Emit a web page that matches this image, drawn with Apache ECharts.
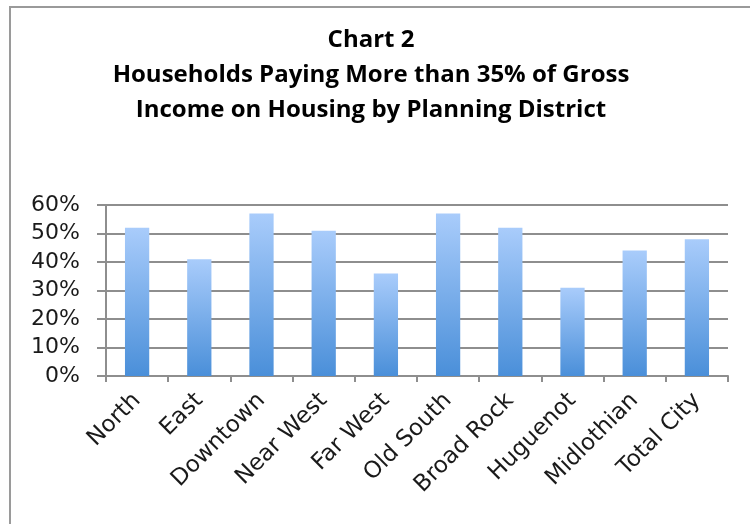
<!DOCTYPE html>
<html>
<head>
<meta charset="utf-8">
<script src="https://cdn.jsdelivr.net/npm/echarts@6/dist/echarts.min.js"></script>
<style>
    html, body { margin: 0; padding: 0; background: #fff; }
</style>
</head>
<body>
<div id="chart" style="width:750px;height:524px;"></div>
<script type="text/javascript">
    // planning districts and share of households paying > 35% of income
    var districts = ['North', 'East', 'Downtown', 'Near West', 'Far West', 'Old South', 'Broad Rock', 'Huguenot', 'Midlothian', 'Total City'];
    var shares = [52, 41, 57, 51, 36, 57, 52, 31, 44, 48];
    var yTicks = [0, 10, 20, 30, 40, 50, 60];

    var myChart = echarts.init(document.getElementById('chart'));
    var gray = '#8e8e8e';
    var labelFont = '"DejaVu Sans", sans-serif';

    var option = {
        animation: false,
        title: {
            text: 'Chart 2\nHouseholds Paying More than 35% of Gross\nIncome on Housing by Planning District',
            left: 366,
            top: 18,
            textAlign: 'center',
            textStyle: {
                fontFamily: '"Open Sans", sans-serif',
                fontWeight: 'bold',
                fontSize: 24,
                lineHeight: 35,
                color: '#000'
            }
        },
        // outer frame of the chart
        graphic: [{
            type: 'rect',
            shape: { x: 10, y: 7, width: 800, height: 600 },
            style: { fill: 'none', stroke: '#9a9a9a', lineWidth: 2 }
        }],
        grid: {
            left: 106,
            right: 22,
            top: 205,
            bottom: 148
        },
        xAxis: {
            type: 'category',
            data: districts,
            axisLine: { lineStyle: { color: gray, width: 2 } },
            axisTick: { show: true, length: 6, lineStyle: { color: gray, width: 2 } },
            axisLabel: {
                rotate: 45,
                margin: 21,
                interval: 0,
                fontFamily: labelFont,
                fontSize: 23,
                color: '#1a1a1a'
            }
        },
        yAxis: {
            type: 'value',
            min: 0,
            max: yTicks[yTicks.length - 1],
            interval: 10,
            axisLine: { show: true, lineStyle: { color: gray, width: 2 } },
            axisTick: { show: true, length: 9, lineStyle: { color: gray, width: 2 } },
            splitLine: { show: true, lineStyle: { color: gray, width: 2 } },
            axisLabel: {
                margin: 26,
                fontFamily: labelFont,
                fontSize: 22,
                color: '#1a1a1a',
                formatter: '{value}%'
            }
        },
        series: [{
            type: 'bar',
            data: shares,
            barWidth: '39%',
            itemStyle: {
                color: new echarts.graphic.LinearGradient(0, 0, 0, 1, [
                    { offset: 0, color: '#a9ccfb' },
                    { offset: 1, color: '#4a8fd9' }
                ])
            }
        }]
    };

    myChart.setOption(option);
</script>
</body>
</html>
